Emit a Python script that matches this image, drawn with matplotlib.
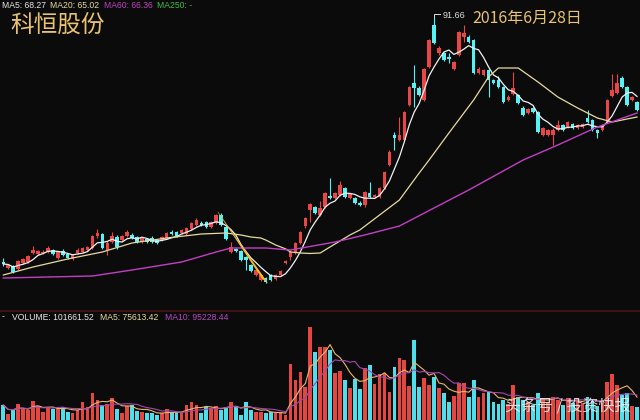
import matplotlib
matplotlib.use('Agg')
import matplotlib.pyplot as plt
import numpy as np
import pandas as pd

plt.rcParams['font.family'] = ['Noto Sans CJK SC', 'DejaVu Sans']

# daily candles (open, high, low, close)
opens = [27.98, 26.42, 26.94, 26.16, 27.72, 27.98, 30.32, 30.06, 30.32, 30.58,
         31.1, 29.02, 30.84, 30.06, 28.76, 30.32, 30.58, 31.1, 31.62, 34.74,
         35.26, 31.1, 33.18, 34.48, 33.7, 34.74, 35.0, 34.48, 33.18, 33.96,
         34.22, 33.7, 33.7, 34.22, 35.78, 35.78, 35.52, 35.26, 36.56, 37.6,
         38.12, 38.38, 37.08, 38.12, 40.2, 37.08, 30.58, 31.36, 30.84, 29.28,
         27.2, 24.6, 23.3, 23.82, 24.6, 23.56, 24.6, 27.72, 29.28, 30.32,
         32.92, 37.34, 41.5, 42.28, 40.2, 42.28, 45.14, 44.62, 45.4, 47.22,
         44.62, 44.62, 43.32, 42.8, 45.92, 44.88, 44.88, 47.22, 53.2, 61.0,
         59.7, 59.7, 68.8, 74.52, 73.22, 70.1, 78.68, 89.6, 82.32, 82.32,
         81.28, 78.16, 81.8, 86.48, 86.48, 85.7, 77.12, 76.6, 77.9, 75.3,
         75.3, 73.48, 70.1, 71.66, 71.4, 68.02, 66.72, 68.02, 66.98, 61.0,
         61.0, 61.0, 62.3, 63.6, 63.08, 63.86, 62.82, 63.08, 65.42, 64.9,
         62.3, 62.3, 64.38, 71.14, 71.92, 75.82, 73.48, 70.1, 69.58]
highs = [29.02, 27.46, 27.2, 28.5, 29.02, 29.8, 32.14, 31.1, 31.1, 32.14,
         31.36, 30.84, 31.36, 30.32, 30.06, 31.62, 31.88, 32.14, 35.0, 36.56,
         35.52, 33.44, 35.78, 35.0, 35.0, 36.3, 35.52, 34.74, 34.48, 34.22,
         34.74, 33.96, 34.74, 35.78, 36.3, 36.04, 36.56, 37.08, 38.38, 39.42,
         38.64, 38.64, 38.64, 40.46, 40.72, 37.34, 33.18, 31.62, 31.1, 29.54,
         27.46, 26.16, 24.86, 24.08, 24.86, 24.86, 25.9, 28.5, 31.1, 33.18,
         36.04, 39.68, 43.32, 42.54, 43.84, 46.18, 49.82, 46.18, 49.04, 47.48,
         45.92, 44.88, 43.84, 46.44, 48.78, 45.66, 47.48, 51.64, 57.1, 61.78,
         65.68, 67.24, 73.74, 79.2, 73.74, 78.42, 85.96, 91.66, 84.14, 82.58,
         82.32, 80.24, 88.04, 89.6, 87.0, 85.96, 78.68, 78.16, 78.16, 75.56,
         76.34, 73.74, 71.4, 77.38, 71.66, 68.54, 68.02, 68.28, 67.24, 63.08,
         62.56, 62.82, 64.9, 63.86, 64.64, 64.12, 63.86, 64.12, 67.5, 65.16,
         62.56, 63.86, 70.36, 76.86, 76.86, 76.34, 73.74, 71.14, 69.84]
lows = [26.94, 26.16, 25.12, 25.9, 27.46, 27.72, 30.06, 29.8, 30.06, 30.32,
        29.8, 28.76, 29.54, 28.76, 28.5, 30.06, 30.32, 30.84, 31.36, 34.22,
        31.36, 29.8, 32.92, 31.36, 33.44, 34.48, 33.96, 32.92, 32.92, 32.92,
        32.92, 32.66, 33.44, 33.96, 35.0, 34.48, 35.26, 35.0, 36.3, 37.34,
        37.34, 36.82, 36.82, 37.86, 37.34, 33.7, 30.32, 30.58, 28.24, 25.9,
        25.38, 24.34, 23.04, 22.52, 23.04, 23.3, 24.34, 27.46, 28.5, 30.06,
        32.66, 36.82, 38.38, 40.46, 39.94, 42.02, 44.36, 44.36, 45.14, 44.62,
        44.36, 43.06, 42.54, 42.28, 44.62, 44.62, 44.62, 46.96, 52.94, 57.1,
        59.44, 59.44, 68.54, 68.28, 71.14, 69.84, 78.42, 84.66, 81.8, 80.24,
        79.72, 77.9, 81.54, 85.18, 84.92, 76.86, 76.86, 76.34, 70.88, 74.26,
        73.22, 69.32, 69.84, 71.4, 69.06, 65.94, 66.46, 66.72, 61.52, 60.74,
        60.74, 58.4, 62.04, 62.04, 62.82, 62.56, 62.56, 62.82, 64.12, 62.04,
        60.22, 62.04, 64.12, 70.88, 71.66, 73.22, 68.54, 69.84, 67.24]
closes = [27.46, 27.2, 25.38, 28.24, 28.76, 29.54, 31.1, 30.84, 30.58, 31.62,
          30.06, 30.58, 29.8, 29.02, 29.8, 31.1, 31.62, 31.88, 34.74, 35.52,
          31.62, 32.92, 34.74, 31.88, 34.74, 35.78, 34.22, 33.18, 34.22, 33.18,
          33.18, 32.92, 34.48, 35.52, 35.26, 34.74, 36.3, 36.82, 38.12, 38.9,
          37.6, 37.08, 38.38, 40.2, 37.6, 33.96, 31.88, 30.84, 28.5, 28.5,
          25.64, 25.9, 24.6, 22.78, 23.3, 24.6, 25.64, 28.24, 30.58, 32.92,
          35.78, 39.42, 43.06, 40.72, 42.02, 45.92, 44.62, 45.92, 48.0, 44.88,
          45.66, 43.32, 42.8, 46.18, 44.88, 45.4, 47.22, 51.38, 56.58, 60.22,
          61.0, 66.98, 73.48, 73.22, 71.4, 78.16, 85.7, 84.92, 83.62, 80.5,
          80.76, 79.98, 87.78, 87.52, 85.18, 77.12, 78.16, 77.9, 75.3, 74.52,
          73.48, 69.58, 70.88, 73.22, 69.32, 66.2, 67.76, 66.98, 61.78, 62.82,
          62.3, 62.3, 63.6, 62.3, 64.38, 62.82, 63.6, 63.86, 64.38, 62.3,
          61.52, 63.6, 70.1, 72.7, 74.52, 73.48, 68.8, 70.88, 67.5]

# volume, thousand lots
volume = [117, 47, 78, 125, 94, 78, 148, 109, 62, 101, 86, 94, 101, 62, 55, 78,
          140, 101, 211, 156, 117, 125, 172, 86, 55, 109, 117, 70, 62, 55, 55, 39,
          55, 86, 62, 55, 55, 117, 140, 117, 55, 101, 94, 109, 78, 101, 140, 109,
          39, 140, 78, 62, 62, 55, 62, 55, 55, 39, 437, 312, 374, 257, 725, 530,
          569, 569, 546, 367, 382, 312, 250, 320, 242, 406, 429, 281, 359, 367,
          218, 413, 484, 468, 265, 624, 257, 328, 273, 335, 250, 211, 140, 187,
          289, 289, 179, 312, 179, 211, 218, 140, 125, 156, 125, 273, 179, 156,
          140, 117, 211, 172, 140, 179, 156, 117, 172, 133, 164, 133, 179, 156,
          109, 133, 296, 359, 273, 195, 211, 109, 102]

# moving averages (candle index, price)
ma20_idx = [0, 6, 13, 20, 26, 33, 40, 45, 48, 50, 52, 53, 55, 57, 58, 60, 62, 64,
            66, 68, 70, 72, 76, 80, 84, 86, 90, 95, 98, 100, 104, 108, 112, 116,
            120, 123, 128]
ma20_val = [24.6, 26.68, 28.76, 30.58, 32.92, 34.22, 35.26, 35.52, 35.0, 34.48,
            34.22, 33.7, 32.4, 31.4, 30.58, 30.32, 30.2, 30.32, 31.9, 33.44,
            35.0, 36.3, 40.2, 44.1, 51.12, 54.5, 61.52, 70.1, 76.08, 78.42,
            78.42, 74.78, 70.88, 68.02, 65.42, 64.38, 65.68]
ma60_idx = [0, 18, 26, 36, 43, 46, 53, 58, 67, 73, 80, 94, 105, 112, 120, 124, 128]
ma60_val = [23.82, 24.34, 25.9, 27.98, 30.58, 31.62, 31.62, 31.1, 33.18, 35.0,
            37.34, 46.7, 54.5, 58.4, 63.08, 64.9, 66.72]

BG = '#0b0b0b'
RED = '#ea4646'
CYAN = '#55f3f5'
GOLD = '#e9c272'

o = np.array(opens)
h = np.array(highs)
l = np.array(lows)
c = np.array(closes)
v = np.array(volume)
x = np.arange(len(c))
up = c >= o
cols = np.where(up, RED, CYAN)

fig = plt.figure(figsize=(6.4, 4.2), dpi=100, facecolor=BG)
ax = fig.add_axes([0, 110 / 420, 1, 310 / 420], facecolor=BG)
axv = fig.add_axes([0, 0, 1, 108 / 420], facecolor=BG)

# candles
ax.vlines(x, l, h, colors=cols, linewidth=0.8, zorder=2)
body = np.maximum(np.abs(c - o), 0.25)
ax.bar(x, body, bottom=np.minimum(o, c), width=0.72, color=cols, linewidth=0, zorder=3)

ma5 = pd.Series(c).rolling(5, min_periods=1).mean()
ax.plot(x, ma5, color='#f2f2f2', lw=0.9, zorder=4)
ax.plot(ma20_idx, ma20_val, color='#e6dba0', lw=0.9, zorder=4)
ax.plot(ma60_idx, ma60_val, color='#c23fc4', lw=1.0, zorder=4)

# yellow wedge marking the drop
ax.fill([43.2, 43.5, 53.45, 52.3], [41.14, 40.82, 22.52, 23.56],
        color='#f6b626', zorder=5, lw=0)

# high marker
k = int(np.argmax(h))
ax.plot([k, k, k + 1.3], [h[k], h[k] + 0.8, h[k] + 0.8], color='#dddddd', lw=0.7)
ax.text(k + 1.8, h[k] + 0.4, f'{h[k]:.2f}', color='#dddddd', fontsize=6.5,
        family='Liberation Sans', va='center')

ax.set_xlim(-0.67, 128.6)
ax.set_ylim(15.5, 96.1)
ax.axis('off')

# volume
axv.bar(x, v, width=0.75, color=np.where(up, '#e5463f', '#4fdfec'), linewidth=0)
axv.plot(x, pd.Series(v).rolling(5, min_periods=1).mean(), color='#e8b86a', lw=0.8)
axv.plot(x, pd.Series(v).rolling(10, min_periods=1).mean(), color='#a548b0', lw=0.8)
axv.set_xlim(-0.67, 128.6)
axv.set_ylim(0, 842)
axv.axis('off')

# separator
fig.add_artist(plt.Line2D([0, 1], [1 - 311 / 420] * 2, color='#4a1414', lw=1.2))

# labels
small = dict(fontsize=6.2, family='Liberation Sans', va='center')
fig.text(2 / 640, 1 - 5 / 420, 'MA5: 68.27', color='#e8e8e8', **small)
fig.text(50 / 640, 1 - 5 / 420, 'MA20: 65.02', color='#e6dba0', **small)
fig.text(104 / 640, 1 - 5 / 420, 'MA60: 66.36', color='#c23fc4', **small)
fig.text(157 / 640, 1 - 5 / 420, 'MA250: -', color='#3fbf4a', **small)

fig.text(2 / 640, 1 - 317 / 420, '-', color='#e8e8e8', **small)
fig.text(12 / 640, 1 - 317 / 420, 'VOLUME: 101661.52', color='#e8e8e8', **small)
fig.text(100 / 640, 1 - 317 / 420, 'MA5: 75613.42', color='#e6dba0', **small)
fig.text(165 / 640, 1 - 317 / 420, 'MA10: 95228.44', color='#b44cc0', **small)

fig.text(10 / 640, 1 - 25 / 420, '科恒股份', color=GOLD, fontsize=17, va='center')
fig.text(472 / 640, 1 - 18 / 420, '2016年6月28日', color=GOLD, fontsize=11.5, va='center')
fig.text(505 / 640, 1 - 407 / 420, '头条号 / 投资快报', color='#f4f4f4', alpha=0.85,
         fontsize=11.5, va='center')

fig.savefig('out.png', dpi=100, facecolor=BG)
